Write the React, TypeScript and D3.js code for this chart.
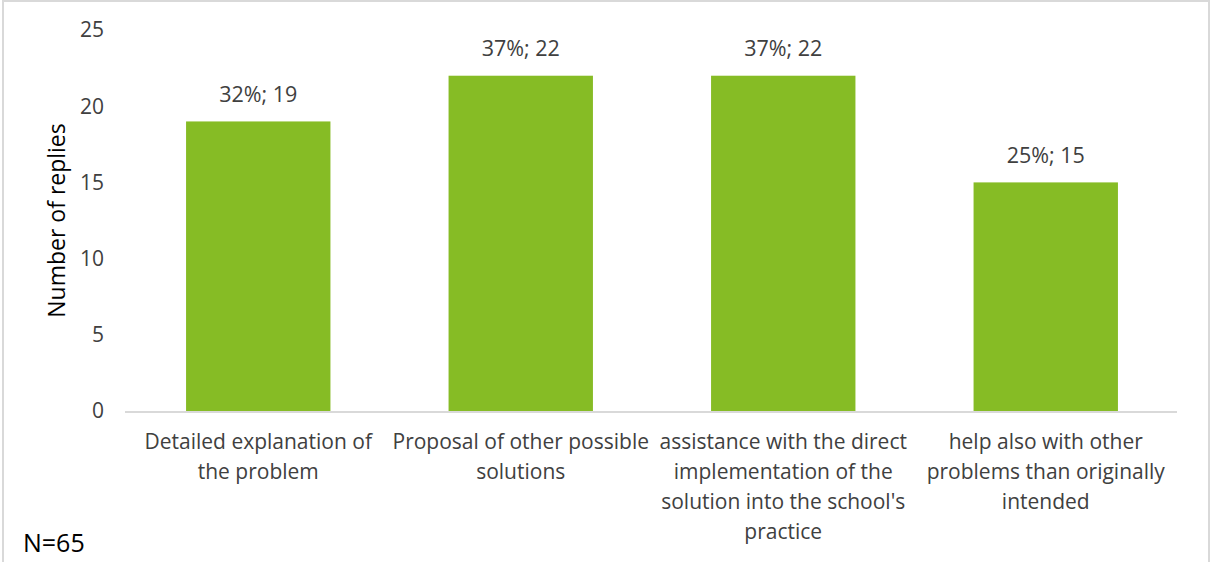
import React from "react";
import * as d3 from "d3";

const categories = [
  "Detailed explanation of\nthe problem",
  "Proposal of other possible\nsolutions",
  "assistance with the direct\nimplementation of the\nsolution into the school's\npractice",
  "help also with other\nproblems than originally\nintended",
];
const counts = [19, 22, 22, 15];
const percents = ["32%", "37%", "37%", "25%"];
const yTicks = [0, 5, 10, 15, 20, 25];

const W = 1210;
const H = 562;
const FONT = "'Open Sans', sans-serif";
const TEXT = "#404040";

export default function App() {
  const x = d3
    .scaleBand<number>()
    .domain(d3.range(categories.length))
    .range([127, 1177])
    .paddingInner(0.45)
    .paddingOuter(0.225);
  const y = d3.scaleLinear().domain([0, 25]).range([411, 30]);

  return (
    <svg
      width={W}
      height={H}
      style={{ position: "absolute", left: 0, top: 0, background: "#fff" }}
      fontFamily={FONT}
    >
      <rect x={3} y={1} width={1206} height={600} fill="#fff" stroke="#d9d9d9" strokeWidth={2} />
      {yTicks.map((t) => (
        <text
          key={t}
          x={104}
          y={y(t)}
          dy="0.35em"
          textAnchor="end"
          fontSize={21}
          fill={TEXT}
        >
          {t}
        </text>
      ))}
      <text
        transform={`translate(57, ${y(12.5)}) rotate(-90)`}
        textAnchor="middle"
        dy="0.35em"
        fontSize={23}
        fill="#000"
      >
        Number of replies
      </text>
      {counts.map((v, i) => (
        <g key={i}>
          <rect
            x={x(i)!}
            y={y(v)}
            width={x.bandwidth()}
            height={y(0) - y(v)}
            fill="#86bc25"
          />
          <text
            x={x(i)! + x.bandwidth() / 2}
            y={y(v) - 27}
            dy="0.35em"
            textAnchor="middle"
            fontSize={21.5}
            fill={TEXT}
          >
            {`${percents[i]}; ${v}`}
          </text>
        </g>
      ))}
      <line x1={125} x2={1177} y1={y(0) + 1} y2={y(0) + 1} stroke="#d9d9d9" strokeWidth={2} />
      {categories.map((c, i) => (
        <text
          key={i}
          x={x(i)! + x.bandwidth() / 2}
          textAnchor="middle"
          fontSize={21}
          fill={TEXT}
        >
          {c.split("\n").map((line, j) => (
            <tspan key={j} x={x(i)! + x.bandwidth() / 2} y={442 + j * 30} dy="0.35em">
              {line}
            </tspan>
          ))}
        </text>
      ))}
      <text x={23} y={543} dy="0.35em" fontSize={25} fill="#000">
        N=65
      </text>
    </svg>
  );
}
